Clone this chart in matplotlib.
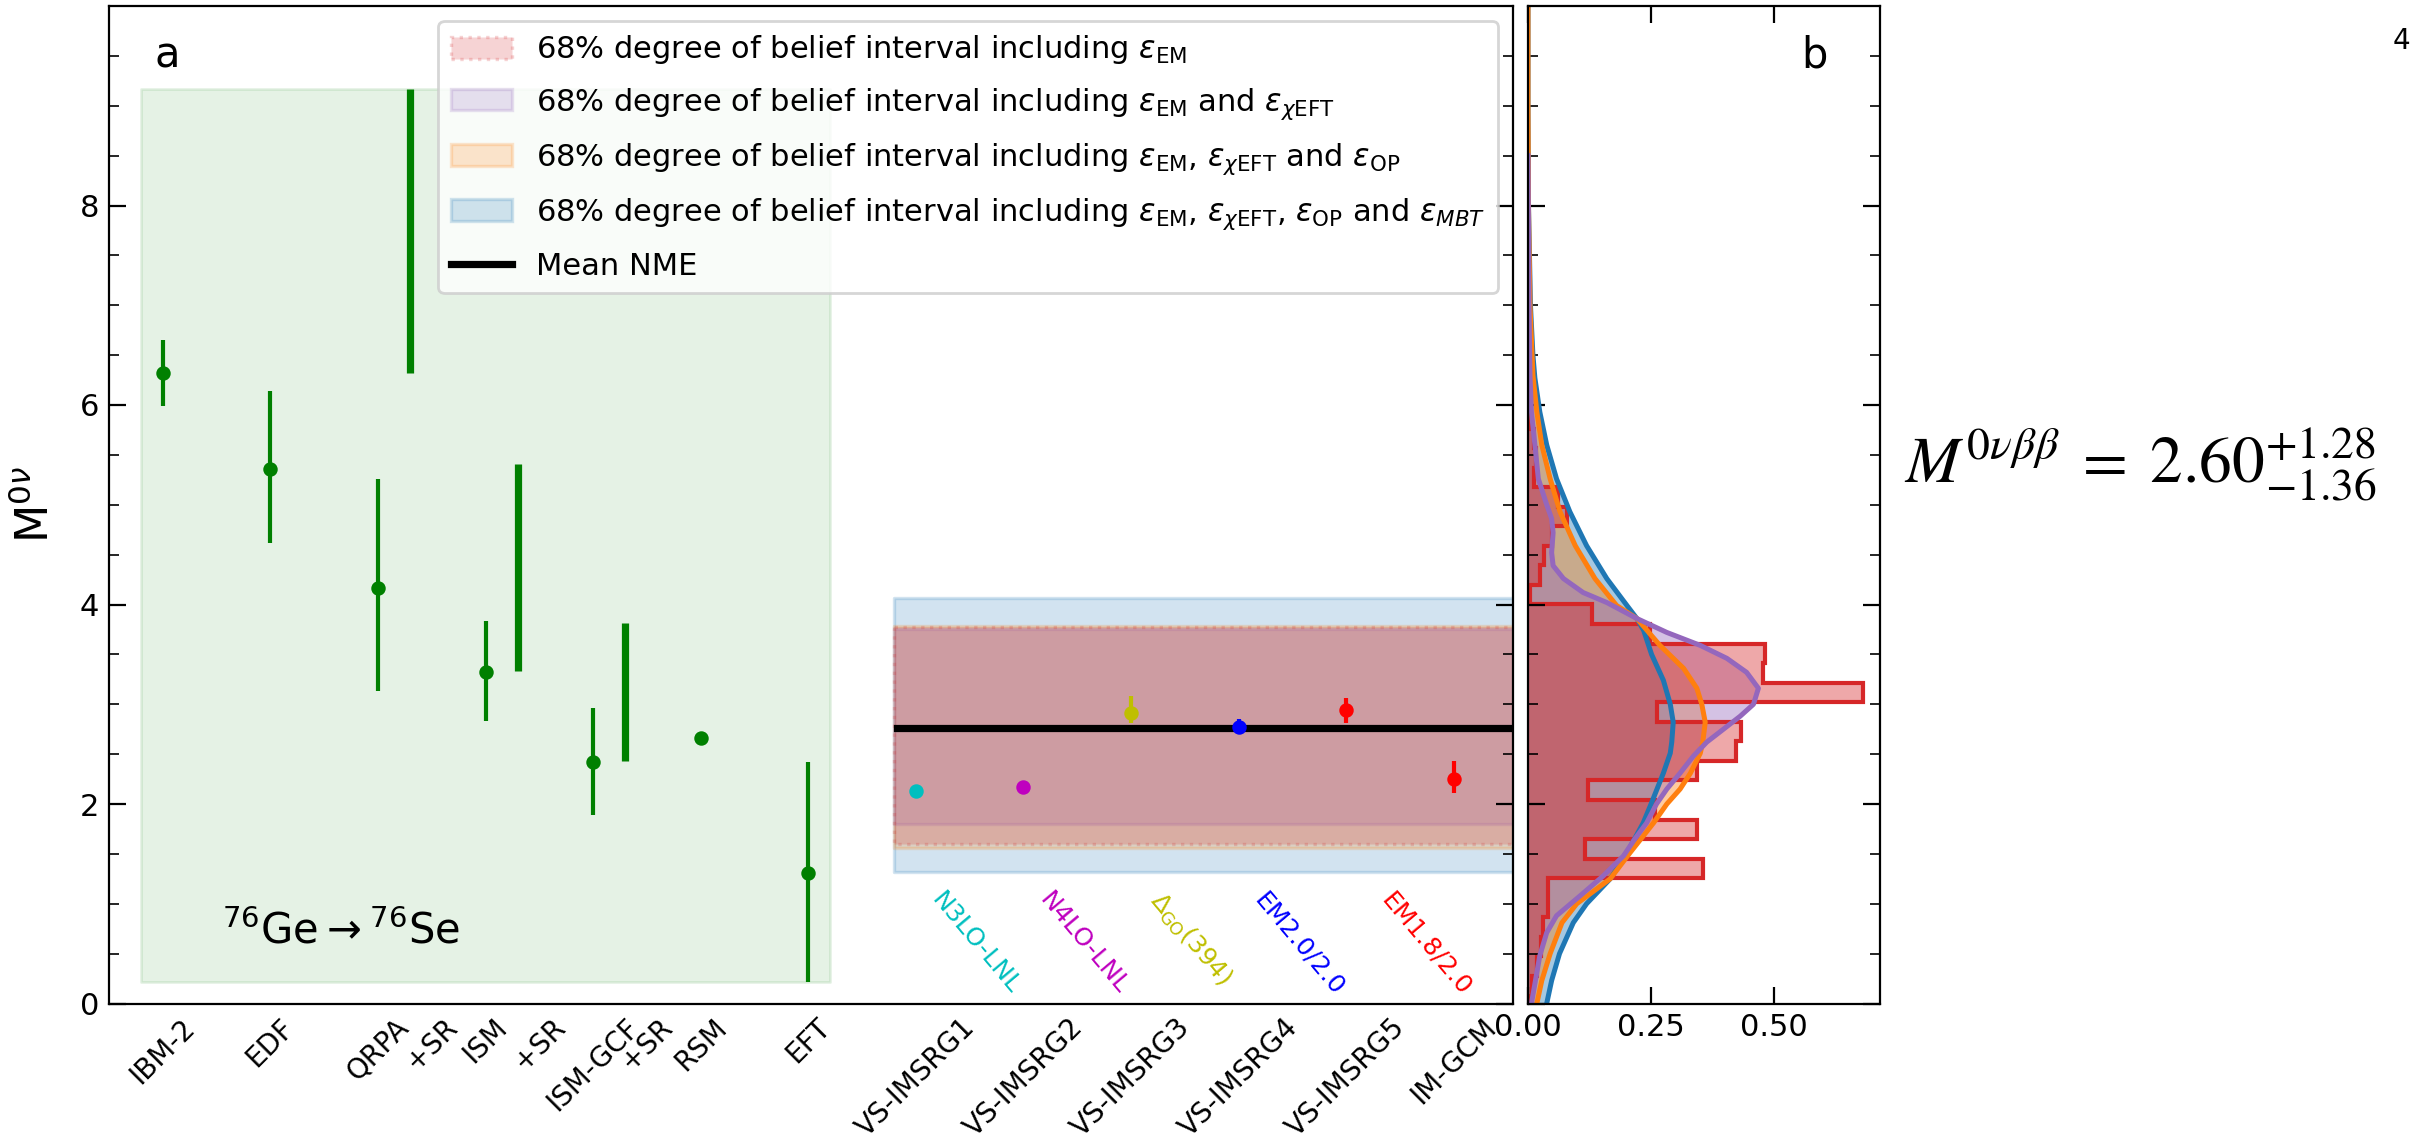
import numpy as np
import matplotlib.pyplot as plt
from matplotlib.patches import Patch
from matplotlib.lines import Line2D
from matplotlib.ticker import MultipleLocator, FormatStrFormatter

# phenomenological models (green, left block)
pheno_x = [1, 2, 3, 4, 5, 6, 7]
pheno_val = [6.32, 5.36, 4.17, 3.32, 2.42, 2.66, 1.31]
pheno_lo = [5.99, 4.62, 3.13, 2.83, 1.89, 2.66, 0.22]
pheno_hi = [6.65, 6.14, 5.26, 3.83, 2.96, 2.66, 2.42]

# short-range corrected ranges
sr_x = [3.3, 4.3, 5.3]
sr_lo = [6.32, 3.33, 2.43]
sr_hi = [9.17, 5.41, 3.81]

# ab initio results
ai_x = [8, 9, 10, 11, 12, 13]
ai_val = [2.13, 2.17, 2.91, 2.77, 2.94, 2.25]
ai_lo = [2.13, 2.17, 2.81, 2.71, 2.81, 2.11]
ai_hi = [2.13, 2.17, 3.08, 2.85, 3.06, 2.43]
ai_colors = ['c', 'm', 'y', 'b', 'r', 'r']

tick_pos = [1, 2, 3, 3.5, 4, 4.5, 5, 5.5, 6, 7, 8, 9, 10, 11, 12, 13]
tick_names = ['IBM-2', 'EDF', 'QRPA', '+SR', 'ISM', '+SR', 'ISM-GCF', '+SR', 'RSM', 'EFT',
              'VS-IMSRG1', 'VS-IMSRG2', 'VS-IMSRG3', 'VS-IMSRG4', 'VS-IMSRG5', 'IM-GCM']

interactions = ['N3LO-LNL', 'N4LO-LNL', r'$\Delta_{\rm GO}$(394)', 'EM2.0/2.0', 'EM1.8/2.0']
interaction_colors = ['c', 'm', 'y', 'b', 'r']
interaction_x = [8.1, 9.1, 10.12, 11.1, 12.28]

# 68% intervals
band_labels = [r'68% degree of belief interval including $\epsilon_{\rm EM}$',
               r'68% degree of belief interval including $\epsilon_{\rm EM}$ and $\epsilon_{\chi\rm EFT}$',
               r'68% degree of belief interval including $\epsilon_{\rm EM}$, $\epsilon_{\chi\rm EFT}$ and $\epsilon_{\rm OP}$',
               r'68% degree of belief interval including $\epsilon_{\rm EM}$, $\epsilon_{\chi\rm EFT}$, $\epsilon_{\rm OP}$ and $\epsilon_{MBT}$']
band_colors = ['C3', 'C4', 'C1', 'C0']
band_lo = [1.60, 1.80, 1.56, 1.32]
band_hi = [3.77, 3.75, 3.78, 4.07]
mean_nme = 2.76

# posterior histogram (EM only)
hist_start = -0.116
hist_width = 0.196
hist_counts = [0.003, 0.009, 0.018, 0.026, 0.030, 0.041, 0.041, 0.355, 0.116, 0.343,
               0.258, 0.121, 0.343, 0.423, 0.432, 0.262, 0.680, 0.477, 0.482, 0.247,
               0.130, 0.004, 0.024, 0.032, 0.049, 0.079, 0.060, 0.012, 0.017, 0.012,
               0.005, 0.005, 0.011, 0.004, 0.006, 0.003, 0.002, 0.002, 0.001]

# posterior densities
blue_y = [0, 0.23, 0.5, 0.81, 1.0, 1.25, 1.5, 1.81, 2.0, 2.31, 2.51, 2.62, 2.82, 3.0,
          3.24, 3.5, 3.74, 3.86, 3.99, 4.26, 4.59, 4.93, 5.26, 5.6, 5.93, 6.27, 6.5,
          7.0, 7.5, 8.0, 9.0, 10.0]
blue_d = [0.038, 0.048, 0.064, 0.092, 0.119, 0.167, 0.200, 0.234, 0.250, 0.275, 0.289,
          0.292, 0.295, 0.289, 0.275, 0.251, 0.235, 0.221, 0.201, 0.160, 0.119, 0.085,
          0.058, 0.038, 0.024, 0.014, 0.010, 0.005, 0.003, 0.001, 0.0, 0.0]
orange_y = [0, 0.23, 0.5, 0.81, 1.0, 1.25, 1.51, 1.81, 2.0, 2.15, 2.31, 2.51, 2.62, 2.82,
            3.0, 3.16, 3.36, 3.59, 3.86, 3.99, 4.26, 4.59, 4.93, 5.26, 5.6, 5.93, 6.3,
            7.0, 8.0, 9.0, 10.0]
orange_d = [0.018, 0.028, 0.045, 0.069, 0.099, 0.167, 0.207, 0.255, 0.282, 0.309, 0.330,
            0.350, 0.355, 0.360, 0.353, 0.343, 0.316, 0.268, 0.221, 0.180, 0.136, 0.096,
            0.065, 0.045, 0.028, 0.018, 0.010, 0.004, 0.001, 0.0, 0.0]
purple_y = [0, 0.48, 0.71, 0.88, 1.08, 1.28, 1.48, 1.65, 1.81, 2.0, 2.15, 2.31, 2.48,
            2.62, 2.75, 2.88, 3.0, 3.16, 3.32, 3.46, 3.59, 3.72, 3.86, 4.02, 4.12, 4.26,
            4.39, 4.52, 4.72, 4.86, 5.0, 5.26, 5.6, 5.93, 6.3, 7.0, 8.5]
purple_d = [0.007, 0.024, 0.038, 0.058, 0.106, 0.153, 0.194, 0.217, 0.241, 0.261, 0.282,
            0.309, 0.336, 0.363, 0.397, 0.431, 0.458, 0.468, 0.444, 0.404, 0.350, 0.282,
            0.221, 0.160, 0.112, 0.072, 0.051, 0.048, 0.051, 0.048, 0.038, 0.021, 0.014,
            0.007, 0.004, 0.002, 0.0]

W, H = 2410, 1139
fig = plt.figure(figsize=(W / 200, H / 200), dpi=200)
ax = fig.add_axes([109 / W, 1 - 1003.5 / H, (1513 - 109) / W, (1003.5 - 6) / H])
ax2 = fig.add_axes([1528 / W, 1 - 1003.5 / H, (1880 - 1528) / W, (1003.5 - 6) / H], sharey=ax)

# panel a
ax.fill_between([0.8, 7.2], min(pheno_lo), max(sr_hi), color='g', alpha=0.1)
ax.errorbar(pheno_x, pheno_val,
            yerr=[np.subtract(pheno_val, pheno_lo), np.subtract(pheno_hi, pheno_val)],
            fmt='o', color='g', ms=4.2, elinewidth=1.5, capsize=0)
ax.vlines(sr_x, sr_lo, sr_hi, color='g', lw=2.6)

band_x = [7.8, 13.8]
for lo, hi, c in zip(band_lo[::-1], band_hi[::-1], band_colors[::-1]):
    ls = ':' if c == 'C3' else '-'
    ax.fill_between(band_x, lo, hi, color=c, alpha=0.2, ls=ls, lw=1.2)
ax.plot([7.82, 13.8], [mean_nme, mean_nme], color='k', lw=2.6)

for x, v, lo, hi, c in zip(ai_x, ai_val, ai_lo, ai_hi, ai_colors):
    ax.errorbar(x, v, yerr=[[v - lo], [hi - v]], fmt='o', color=c, ms=4.2,
                elinewidth=1.5, capsize=0)

for x, name, c in zip(interaction_x, interactions, interaction_colors):
    ax.text(x, 1.16, name, color=c, fontsize=9, rotation=-50, ha='left', va='top')

ax.text(0.92, 9.5, 'a', fontsize=15, va='center')
ax.text(1.55, 0.6, r'$^{76}$Ge$\rightarrow$$^{76}$Se', fontsize=15)

ax.set_xlim(0.5, 13.55)
ax.set_ylim(0, 10)
ax.set_xticks(tick_pos)
ax.set_xticklabels(tick_names, rotation=45)
ax.set_yticks([0, 2, 4, 6, 8])
ax.yaxis.set_minor_locator(MultipleLocator(0.5))
ax.tick_params(axis='x', length=0, labelsize=10)
ax.tick_params(axis='y', which='both', direction='in', right=True, labelsize=11)
ax.tick_params(axis='y', which='major', length=6)
ax.tick_params(axis='y', which='minor', length=3.5)
ax.set_ylabel(r'M$^{0\nu}$', fontsize=16, labelpad=8)

handles = []
for lab, c in zip(band_labels, band_colors):
    ls = ':' if c == 'C3' else '-'
    handles.append(Patch(facecolor=c, edgecolor=c, alpha=0.2, ls=ls, lw=1.2, label=lab))
handles.append(Line2D([], [], color='k', lw=2.6, label='Mean NME'))
ax.legend(handles=handles, loc='upper right', fontsize=11, labelspacing=0.65)

# panel b
for yy, dd, c in [(blue_y, blue_d, 'C0'), (orange_y, orange_d, 'C1'), (purple_y, purple_d, 'C4')]:
    ax2.fill_betweenx(yy, 0, dd, color=c, alpha=0.4, lw=0)
    ax2.plot(dd, yy, color=c, lw=1.8)

hist_edges = hist_start + hist_width * np.arange(len(hist_counts) + 1)
ax2.stairs(hist_counts, hist_edges, orientation='horizontal', baseline=0, fill=True,
           facecolor=(0.839, 0.153, 0.157, 0.4), edgecolor='C3', lw=1.5)

ax2.set_xlim(0, 0.715)
ax2.set_xticks([0, 0.25, 0.5])
ax2.xaxis.set_major_formatter(FormatStrFormatter('%.2f'))
ax2.tick_params(which='both', direction='in', left=True, right=True, top=True,
                labelleft=False, labelsize=11)
ax2.tick_params(axis='x', length=6)
ax2.tick_params(axis='y', which='major', length=6)
ax2.tick_params(axis='y', which='minor', length=3.5)
ax2.text(0.777, 0.95, 'b', fontsize=15, transform=ax2.transAxes, va='center')

fig.text(1904 / W, 1 - 483 / H, r'$M^{0\nu\beta\beta}\;=\;2.60^{+1.28}_{-1.36}$',
         fontsize=23.5, math_fontfamily='stix', va='baseline')
fig.text(2393 / W, 1 - 27 / H, '4', fontsize=10, va='top')

fig.savefig('out.png', dpi=200, facecolor='white')
